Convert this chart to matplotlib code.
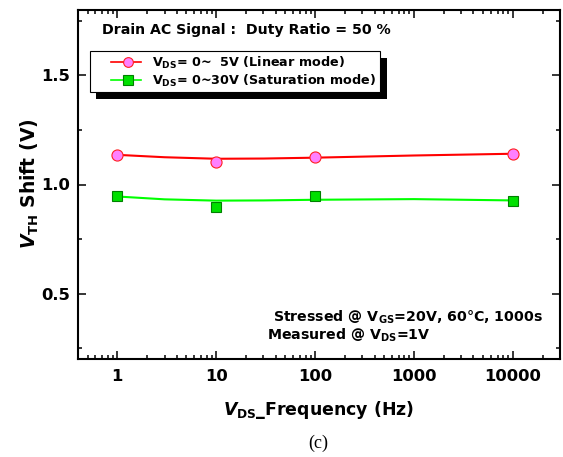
import numpy as np
import matplotlib
matplotlib.use('Agg')
import matplotlib.pyplot as plt
from matplotlib.lines import Line2D
from matplotlib.patches import Rectangle
from matplotlib.ticker import LogLocator, FixedLocator, FixedFormatter, MultipleLocator, NullFormatter

plt.rcParams['font.family'] = 'DejaVu Sans'
plt.rcParams['font.weight'] = 'bold'
plt.rcParams['mathtext.fontset'] = 'custom'
plt.rcParams['mathtext.rm'] = 'DejaVu Sans:bold'
plt.rcParams['mathtext.it'] = 'DejaVu Sans:italic:bold'
plt.rcParams['mathtext.bf'] = 'DejaVu Sans:bold'

# measured points
freq = [1, 10, 100, 10000]
vth_linear = [1.136, 1.101, 1.125, 1.142]
vth_sat = [0.946, 0.896, 0.946, 0.925]

# smooth guide curves, also
curve_freq = [1, 3, 10, 30, 100, 1000, 10000]
curve_linear = [1.136, 1.125, 1.118, 1.119, 1.123, 1.133, 1.141]
curve_sat = [0.945, 0.932, 0.926, 0.927, 0.930, 0.933, 0.927]

xticks = [1, 10, 100, 1000, 10000]
xtick_labels = ['1', '10', '100', '1000', '10000']
yticks = [0.5, 1.0, 1.5]
ytick_labels = ['0.5', '1.0', '1.5']

label_linear = r'V$_{\mathrm{DS}}$= 0~  5V (Linear mode)'
label_sat = r'V$_{\mathrm{DS}}$= 0~30V (Saturation mode)'

W, H = 563, 457
fig = plt.figure(figsize=(W / 100, H / 100), dpi=100)
ax = fig.add_axes([78 / W, 1 - 359 / H, 482 / W, 349 / H])

ax.plot(curve_freq, curve_linear, color='#ff0000', lw=1.5, zorder=2)
ax.plot(curve_freq, curve_sat, color='#00ff00', lw=1.5, zorder=2)

ax.plot(freq, vth_linear, 'o', ms=8, mfc='#ff80ff', mec='#ff2020', mew=0.8, zorder=3)
ax.plot(freq, vth_sat, 's', ms=7.5, mfc='#00e000', mec='#008000', mew=0.8, zorder=3)

ax.set_xscale('log')
ax.set_xlim(0.4, 30000)
ax.set_ylim(0.2, 1.8)

ax.xaxis.set_major_locator(FixedLocator(xticks))
ax.xaxis.set_major_formatter(FixedFormatter(xtick_labels))
ax.xaxis.set_minor_locator(LogLocator(base=10, subs=np.arange(2, 10), numticks=50))
ax.xaxis.set_minor_formatter(NullFormatter())
ax.yaxis.set_major_locator(FixedLocator(yticks))
ax.yaxis.set_major_formatter(FixedFormatter(ytick_labels))
ax.yaxis.set_minor_locator(MultipleLocator(0.25))

ax.tick_params(which='both', direction='in', top=True, right=True, width=1.1)
ax.tick_params(which='major', length=6, labelsize=11.8)
ax.tick_params(axis='x', which='major', pad=7.5)
ax.tick_params(axis='y', which='major', pad=6)
ax.tick_params(which='minor', length=3)
for s in ax.spines.values():
    s.set_linewidth(1.5)

# legend
handles = [
    Line2D([], [], color='#ff0000', lw=1.2, marker='o', ms=7, mfc='#ff80ff', mec='#ff2020', mew=0.8),
    Line2D([], [], color='#00ff00', lw=1.2, marker='s', ms=6.5, mfc='#00e000', mec='#008000', mew=0.8),
]
leg = ax.legend(handles, [label_linear, label_sat], loc='upper left',
                bbox_to_anchor=(90 / W, 1 - 51 / H), bbox_transform=fig.transFigure,
                borderaxespad=0, fancybox=False, framealpha=1, edgecolor='black',
                fontsize=9.2, handlelength=3.7, handletextpad=0.86, labelspacing=0.12,
                borderpad=0.3)
leg.get_frame().set_linewidth(0.8)
# the handle lines sit in the right part of the handle box
for h in leg.legend_handles:
    h.set_xdata([12.5, 24.5, 34.0])

ax.text(102 / W, 1 - 30 / H, 'Drain AC Signal :  Duty Ratio = 50 %', transform=fig.transFigure,
        fontsize=10.2, ha='left', va='center')
ax.text(273 / W, 1 - 317 / H, r'Stressed @ V$_{\mathrm{GS}}$=20V, 60°C, 1000s', transform=fig.transFigure,
        fontsize=10.2, ha='left', va='center')
ax.text(267 / W, 1 - 335 / H, r'Measured @ V$_{\mathrm{DS}}$=1V', transform=fig.transFigure,
        fontsize=10.2, ha='left', va='center')

fig.text(319 / W, 1 - 410 / H, r'$V_{\mathrm{DS}}$_Frequency (Hz)', fontsize=12.5, ha='center', va='center')
fig.text(30 / W, 1 - 184 / H, r'$V_{\mathrm{TH}}$ Shift (V)', fontsize=13.5, ha='center', va='center',
         rotation=90)
fig.text(318 / W, 1 - 443 / H, '(c)', fontsize=13, ha='center', va='center',
         family='Liberation Serif', weight='normal')

# black drop shadow behind the legend box
fig.canvas.draw()
bb = leg.get_window_extent()
inv = ax.transAxes.inverted()
(x0, y0), (x1, y1) = inv.transform([(bb.x0 + 6, bb.y0 - 7), (bb.x1 + 7, bb.y1 - 7)])
ax.add_patch(Rectangle((x0, y0), x1 - x0, y1 - y0, transform=ax.transAxes, facecolor='black',
                       edgecolor='none', clip_on=False, zorder=4.9))

fig.savefig('out.png', dpi=100)
